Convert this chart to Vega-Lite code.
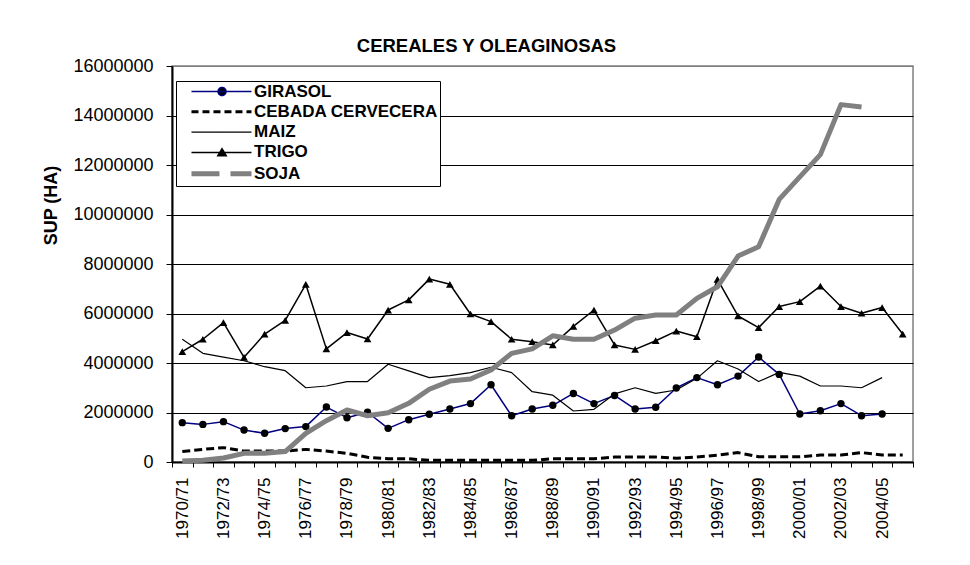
{
  "$schema": "https://vega.github.io/schema/vega-lite/v6.json",
  "width": 741,
  "height": 396,
  "autosize": {"type": "none"},
  "padding": {"left": 172, "top": 66, "right": 57, "bottom": 103},
  "background": "white",
  "config": {
    "font": "Liberation Sans",
    "view": {"stroke": "#808080", "strokeWidth": 1.5},
    "legend": {
      "title": null,
      "orient": "none",
      "legendX": 4,
      "legendY": 15,
      "fillColor": "white",
      "strokeColor": "black",
      "padding": 2,
      "symbolSize": 144,
      "labelFontSize": 17,
      "labelFontWeight": "bold",
      "labelColor": "black",
      "labelOffset": 59,
      "rowPadding": 2.3,
      "labelLimit": 400
    }
  },
  "title": {
    "text": "CEREALES Y OLEAGINOSAS",
    "fontSize": 18.5,
    "fontWeight": "bold",
    "color": "black",
    "anchor": "middle",
    "dx": -56,
    "dy": 27,
    "offset": 14,
    "baseline": "alphabetic"
  },
  "data": {
    "values": [
      {"t": "1970/71", "GIRASOL": 1590000, "CEBADA CERVECERA": 420000, "MAIZ": 4960000, "TRIGO": 4460000, "SOJA": 40000},
      {"t": "1971/72", "GIRASOL": 1520000, "CEBADA CERVECERA": 510000, "MAIZ": 4390000, "TRIGO": 4960000, "SOJA": 70000},
      {"t": "1972/73", "GIRASOL": 1630000, "CEBADA CERVECERA": 580000, "MAIZ": 4240000, "TRIGO": 5630000, "SOJA": 160000},
      {"t": "1973/74", "GIRASOL": 1290000, "CEBADA CERVECERA": 440000, "MAIZ": 4090000, "TRIGO": 4230000, "SOJA": 350000},
      {"t": "1974/75", "GIRASOL": 1160000, "CEBADA CERVECERA": 440000, "MAIZ": 3850000, "TRIGO": 5170000, "SOJA": 350000},
      {"t": "1975/76", "GIRASOL": 1350000, "CEBADA CERVECERA": 440000, "MAIZ": 3690000, "TRIGO": 5720000, "SOJA": 420000},
      {"t": "1976/77", "GIRASOL": 1430000, "CEBADA CERVECERA": 510000, "MAIZ": 3000000, "TRIGO": 7180000, "SOJA": 1160000},
      {"t": "1977/78", "GIRASOL": 2220000, "CEBADA CERVECERA": 440000, "MAIZ": 3070000, "TRIGO": 4570000, "SOJA": 1670000},
      {"t": "1978/79", "GIRASOL": 1790000, "CEBADA CERVECERA": 350000, "MAIZ": 3250000, "TRIGO": 5230000, "SOJA": 2100000},
      {"t": "1979/80", "GIRASOL": 2010000, "CEBADA CERVECERA": 190000, "MAIZ": 3250000, "TRIGO": 4970000, "SOJA": 1870000},
      {"t": "1980/81", "GIRASOL": 1360000, "CEBADA CERVECERA": 130000, "MAIZ": 3950000, "TRIGO": 6140000, "SOJA": 1990000},
      {"t": "1981/82", "GIRASOL": 1710000, "CEBADA CERVECERA": 130000, "MAIZ": 3680000, "TRIGO": 6550000, "SOJA": 2370000},
      {"t": "1982/83", "GIRASOL": 1930000, "CEBADA CERVECERA": 70000, "MAIZ": 3410000, "TRIGO": 7390000, "SOJA": 2940000},
      {"t": "1983/84", "GIRASOL": 2140000, "CEBADA CERVECERA": 70000, "MAIZ": 3490000, "TRIGO": 7180000, "SOJA": 3270000},
      {"t": "1984/85", "GIRASOL": 2360000, "CEBADA CERVECERA": 70000, "MAIZ": 3610000, "TRIGO": 5980000, "SOJA": 3350000},
      {"t": "1985/86", "GIRASOL": 3120000, "CEBADA CERVECERA": 70000, "MAIZ": 3830000, "TRIGO": 5670000, "SOJA": 3720000},
      {"t": "1986/87", "GIRASOL": 1870000, "CEBADA CERVECERA": 70000, "MAIZ": 3610000, "TRIGO": 4960000, "SOJA": 4390000},
      {"t": "1987/88", "GIRASOL": 2140000, "CEBADA CERVECERA": 70000, "MAIZ": 2840000, "TRIGO": 4860000, "SOJA": 4570000},
      {"t": "1988/89", "GIRASOL": 2290000, "CEBADA CERVECERA": 130000, "MAIZ": 2700000, "TRIGO": 4730000, "SOJA": 5100000},
      {"t": "1989/90", "GIRASOL": 2770000, "CEBADA CERVECERA": 130000, "MAIZ": 2060000, "TRIGO": 5480000, "SOJA": 4960000},
      {"t": "1990/91", "GIRASOL": 2360000, "CEBADA CERVECERA": 130000, "MAIZ": 2130000, "TRIGO": 6140000, "SOJA": 4960000},
      {"t": "1991/92", "GIRASOL": 2690000, "CEBADA CERVECERA": 200000, "MAIZ": 2750000, "TRIGO": 4730000, "SOJA": 5330000},
      {"t": "1992/93", "GIRASOL": 2140000, "CEBADA CERVECERA": 200000, "MAIZ": 3000000, "TRIGO": 4550000, "SOJA": 5810000},
      {"t": "1993/94", "GIRASOL": 2210000, "CEBADA CERVECERA": 200000, "MAIZ": 2770000, "TRIGO": 4900000, "SOJA": 5940000},
      {"t": "1994/95", "GIRASOL": 2990000, "CEBADA CERVECERA": 150000, "MAIZ": 2910000, "TRIGO": 5290000, "SOJA": 5940000},
      {"t": "1995/96", "GIRASOL": 3410000, "CEBADA CERVECERA": 200000, "MAIZ": 3380000, "TRIGO": 5060000, "SOJA": 6610000},
      {"t": "1996/97", "GIRASOL": 3120000, "CEBADA CERVECERA": 280000, "MAIZ": 4090000, "TRIGO": 7380000, "SOJA": 7080000},
      {"t": "1997/98", "GIRASOL": 3470000, "CEBADA CERVECERA": 380000, "MAIZ": 3760000, "TRIGO": 5900000, "SOJA": 8320000},
      {"t": "1998/99", "GIRASOL": 4240000, "CEBADA CERVECERA": 210000, "MAIZ": 3250000, "TRIGO": 5430000, "SOJA": 8700000},
      {"t": "1999/00", "GIRASOL": 3540000, "CEBADA CERVECERA": 210000, "MAIZ": 3620000, "TRIGO": 6280000, "SOJA": 10610000},
      {"t": "2000/01", "GIRASOL": 1940000, "CEBADA CERVECERA": 210000, "MAIZ": 3470000, "TRIGO": 6480000, "SOJA": 11520000},
      {"t": "2001/02", "GIRASOL": 2070000, "CEBADA CERVECERA": 280000, "MAIZ": 3070000, "TRIGO": 7110000, "SOJA": 12420000},
      {"t": "2002/03", "GIRASOL": 2360000, "CEBADA CERVECERA": 280000, "MAIZ": 3070000, "TRIGO": 6280000, "SOJA": 14440000},
      {"t": "2003/04", "GIRASOL": 1870000, "CEBADA CERVECERA": 380000, "MAIZ": 3000000, "TRIGO": 6010000, "SOJA": 14340000},
      {"t": "2004/05", "GIRASOL": 1940000, "CEBADA CERVECERA": 280000, "MAIZ": 3410000, "TRIGO": 6240000, "SOJA": null},
      {"t": "2005/06", "GIRASOL": null, "CEBADA CERVECERA": 280000, "MAIZ": null, "TRIGO": 5170000, "SOJA": null}
    ]
  },
  "transform": [
    {"fold": ["GIRASOL", "CEBADA CERVECERA", "MAIZ", "TRIGO", "SOJA"], "as": ["serie", "v"]},
    {"filter": "isValid(datum.v)"}
  ],
  "encoding": {
    "x": {
      "field": "t",
      "type": "ordinal",
      "sort": null,
      "bandPosition": 0.5,
      "scale": {"type": "band", "paddingInner": 0, "paddingOuter": 0},
      "axis": {
        "title": null,
        "tickBand": "extent",
        "labelAngle": -90,
        "labelFontSize": 17,
        "labelColor": "black",
        "labelPadding": 10,
        "tickSize": 5,
        "tickColor": "black",
        "domainColor": "black",
        "domainWidth": 2,
        "grid": false,
        "labelOverlap": false,
        "labelExpr": "toNumber(slice(datum.label,0,4)) % 2 === 0 ? datum.label : ''"
      }
    },
    "y": {
      "field": "v",
      "type": "quantitative",
      "scale": {"domain": [0, 16000000], "nice": false, "zero": true},
      "axis": {
        "title": "SUP (HA)",
        "titleFontSize": 18,
        "titleFontWeight": "bold",
        "titleColor": "black",
        "titlePadding": 12,
        "titleY": 139,
        "values": [0, 2000000, 4000000, 6000000, 8000000, 10000000, 12000000, 14000000, 16000000],
        "format": "d",
        "labelFontSize": 18,
        "labelColor": "black",
        "labelPadding": 13,
        "tickSize": 6,
        "tickColor": "black",
        "domainColor": "black",
        "domainWidth": 2,
        "grid": true,
        "gridColor": {"condition": {"test": "datum.value === 16000000", "value": "#808080"}, "value": "black"},
        "gridWidth": 1.2
      }
    },
    "color": {
      "field": "serie",
      "type": "nominal",
      "scale": {
        "domain": ["GIRASOL", "CEBADA CERVECERA", "MAIZ", "TRIGO", "SOJA"],
        "range": ["#000080", "black", "black", "black", "#808080"]
      },
      "legend": {
        "labelExpr": "datum.label === 'CEBADA CERVECERA' ? datum.label + '\u00a0\u00a0\u00a0' : datum.label",
        "encode": {
          "symbols": {
            "update": {
              "shape": {"signal": "datum.value === 'GIRASOL' ? 'M0.83,0H10.83M6.59,0A0.67,0.67,0,1,1,5.25,0A0.67,0.67,0,1,1,6.59,0' : datum.value === 'TRIGO' ? 'M0.83,0H10.83M5.92,-0.62L6.62,0.55L5.22,0.55Z' : 'M0.83,0H10.83'"},
              "stroke": {"signal": "datum.value === 'GIRASOL' ? '#000080' : datum.value === 'SOJA' ? '#808080' : 'black'"},
              "fill": {"signal": "datum.value === 'GIRASOL' || datum.value === 'TRIGO' ? 'black' : 'transparent'"},
              "strokeWidth": {"signal": "datum.value === 'SOJA' ? 5 : datum.value === 'CEBADA CERVECERA' ? 3 : datum.value === 'MAIZ' ? 1.2 : 1.5"},
              "strokeDash": {"signal": "datum.value === 'CEBADA CERVECERA' ? [7,4] : datum.value === 'SOJA' ? [28,11] : [1,0]"},
              "size": {"value": 144},
              "opacity": {"value": 1}
            }
          }
        }
      }
    }
  },
  "layer": [
    {
      "transform": [{"filter": "datum.serie === 'GIRASOL'"}],
      "mark": {"type": "line", "strokeWidth": 1.5, "strokeJoin": "round"}
    },
    {
      "transform": [{"filter": "datum.serie === 'GIRASOL'"}],
      "mark": {"type": "point", "shape": "circle", "filled": true, "opacity": 1, "size": 55, "color": "black"},
      "encoding": {"color": {"value": "black"}}
    },
    {
      "transform": [{"filter": "datum.serie === 'CEBADA CERVECERA'"}],
      "mark": {"type": "line", "strokeWidth": 3, "strokeDash": [8, 4], "strokeJoin": "round"}
    },
    {
      "transform": [{"filter": "datum.serie === 'MAIZ'"}],
      "mark": {"type": "line", "strokeWidth": 1.2, "strokeJoin": "round"}
    },
    {
      "transform": [{"filter": "datum.serie === 'TRIGO'"}],
      "mark": {"type": "line", "strokeWidth": 1.5, "strokeJoin": "round"}
    },
    {
      "transform": [{"filter": "datum.serie === 'TRIGO'"}],
      "mark": {"type": "point", "shape": "triangle-up", "filled": true, "opacity": 1, "size": 60, "color": "black"},
      "encoding": {"color": {"value": "black"}}
    },
    {
      "transform": [{"filter": "datum.serie === 'SOJA'"}],
      "mark": {"type": "line", "strokeWidth": 5, "strokeJoin": "round"}
    }
  ]
}
